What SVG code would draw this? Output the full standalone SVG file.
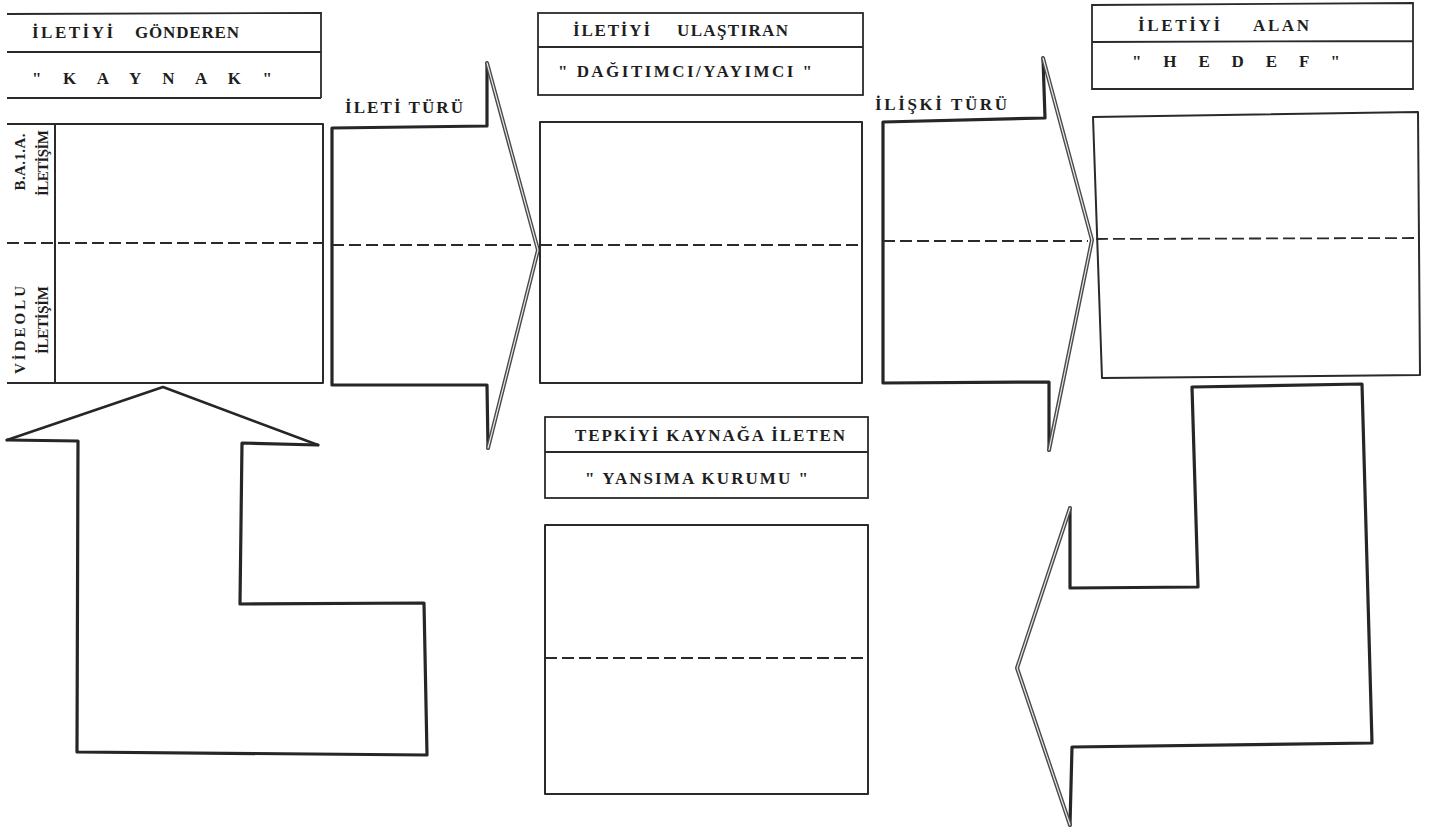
<svg xmlns="http://www.w3.org/2000/svg" width="1436" height="833" viewBox="0 0 1436 833">
<style>
.bg{fill:#ffffff}
.box{fill:none;stroke:#2a2a2a;stroke-width:2;stroke-linejoin:round}
.hdr{fill:none;stroke:#2a2a2a;stroke-width:1.8}
.dash{fill:none;stroke:#2a2a2a;stroke-width:1.8;stroke-dasharray:12 5}
.thick{fill:none;stroke:#262626;stroke-width:3.2;stroke-linejoin:round;stroke-linecap:round}
.dbl{fill:none;stroke:#4a4a4a;stroke-width:4;stroke-linecap:round;stroke-linejoin:round}
.dblin{fill:none;stroke:#e8e8e8;stroke-width:1.2;stroke-linecap:round;stroke-linejoin:round}
.t{font-family:"Liberation Serif","DejaVu Serif",serif;font-size:17px;font-weight:bold;fill:#1e1e1e}
.tr{font-family:"Liberation Serif","DejaVu Serif",serif;font-size:15px;font-weight:bold;fill:#1e1e1e}
</style>
<rect class="bg" x="0" y="0" width="1436" height="833"/>

<g id="connectors">
  <g id="arrow-ileti-turu">
    <polyline class="thick" points="487,63 487,126 332,128 332,385 487,385 488,448"/>
    <polyline class="dbl" points="487,63 538,250 488,448"/>
    <polyline class="dblin" points="487,63 538,250 488,448"/>
    <line class="dash" x1="332" y1="245" x2="534" y2="245"/>
    <text class="t" x="345" y="113" textLength="118" lengthAdjust="spacing">İLETİ TÜRÜ</text>
  </g>
  <g id="arrow-iliski-turu">
    <polyline class="thick" points="1043,58 1045,118 883,122 883,383 1049,382 1049,450"/>
    <polyline class="dbl" points="1043,58 1092,240 1049,450"/>
    <polyline class="dblin" points="1043,58 1092,240 1049,450"/>
    <line class="dash" x1="883" y1="241" x2="1088" y2="241"/>
    <text class="t" x="875" y="110" textLength="132" lengthAdjust="spacing">İLİŞKİ TÜRÜ</text>
  </g>
  <g id="arrow-feedback-up">
    <polyline class="thick" points="7,440 78,441 77,752 427,755 424,603 240,604 242,443 318,445"/>
    <polyline class="thick" points="7,440 163,387 318,445" style="stroke-width:2.6"/>
  </g>
  <g id="arrow-feedback-left">
    <polyline class="thick" points="1070,508 1070,588 1198,587 1192,387 1362,384 1372,743 1072,747 1070,825"/>
    <polyline class="dbl" points="1070,508 1017,668 1070,825"/>
    <polyline class="dblin" points="1070,508 1017,668 1070,825"/>
  </g>
</g>

<g id="node-kaynak-header">
  <path class="hdr" d="M7,14 L321,13 L321,98 M7,52 L321,52 M7,98 L321,98"/>
  <text class="t" x="32" y="38" textLength="81" lengthAdjust="spacing">İLETİYİ</text>
  <text class="t" x="135" y="38" textLength="104" lengthAdjust="spacing">GÖNDEREN</text>
  <text class="t" x="32" y="84" textLength="240" lengthAdjust="spacing">" K A Y N A K "</text>
</g>

<g id="node-kaynak">
  <path class="box" d="M7,124 L323,124 L323,383 L7,383 M55,124 L55,383"/>
  <line class="dash" x1="7" y1="243" x2="323" y2="243"/>
  <text class="tr" transform="translate(25,162) rotate(-90)" text-anchor="middle" textLength="57" lengthAdjust="spacing">B.A.1.A.</text>
  <text class="tr" transform="translate(48,163) rotate(-90)" text-anchor="middle" textLength="66" lengthAdjust="spacing">İLETİŞİM</text>
  <text class="tr" transform="translate(25,330) rotate(-90)" text-anchor="middle" textLength="88" lengthAdjust="spacing">VİDEOLU</text>
  <text class="tr" transform="translate(48,320) rotate(-90)" text-anchor="middle" textLength="68" lengthAdjust="spacing">İLETİŞİM</text>
</g>

<g id="node-dagitimci-header">
  <rect class="hdr" x="538" y="13" width="325" height="82"/>
  <line class="hdr" x1="538" y1="47" x2="863" y2="47"/>
  <text class="t" x="573" y="36" textLength="77" lengthAdjust="spacing">İLETİYİ</text>
  <text class="t" x="677" y="36" textLength="111" lengthAdjust="spacing">ULAŞTIRAN</text>
  <text class="t" x="558" y="77" textLength="254" lengthAdjust="spacing">" DAĞITIMCI/YAYIMCI "</text>
</g>

<g id="node-dagitimci">
  <rect class="box" x="540" y="122" width="322" height="261"/>
  <line class="dash" x1="540" y1="245" x2="862" y2="245"/>
</g>

<g id="node-hedef-header">
  <path class="hdr" d="M1092,5 L1413,3 L1413,89 L1092,89 Z M1092,42 L1413,41"/>
  <text class="t" x="1138" y="31" textLength="82" lengthAdjust="spacing">İLETİYİ</text>
  <text class="t" x="1253" y="31" textLength="56" lengthAdjust="spacing">ALAN</text>
  <text class="t" x="1132" y="67" textLength="208" lengthAdjust="spacing">" H E D E F "</text>
</g>

<g id="node-hedef">
  <path class="box" d="M1093,117 L1418,112 L1420,375 L1102,378 Z"/>
  <line class="dash" x1="1096" y1="239" x2="1418" y2="238"/>
</g>

<g id="node-yansima-header">
  <rect class="hdr" x="545" y="417" width="323" height="81"/>
  <line class="hdr" x1="545" y1="452" x2="868" y2="452"/>
  <text class="t" x="575" y="441" textLength="270" lengthAdjust="spacing">TEPKİYİ KAYNAĞA İLETEN</text>
  <text class="t" x="585" y="484" textLength="223" lengthAdjust="spacing">" YANSIMA KURUMU "</text>
</g>

<g id="node-yansima">
  <rect class="box" x="545" y="525" width="323" height="269"/>
  <line class="dash" x1="545" y1="658" x2="868" y2="658"/>
</g>
</svg>
